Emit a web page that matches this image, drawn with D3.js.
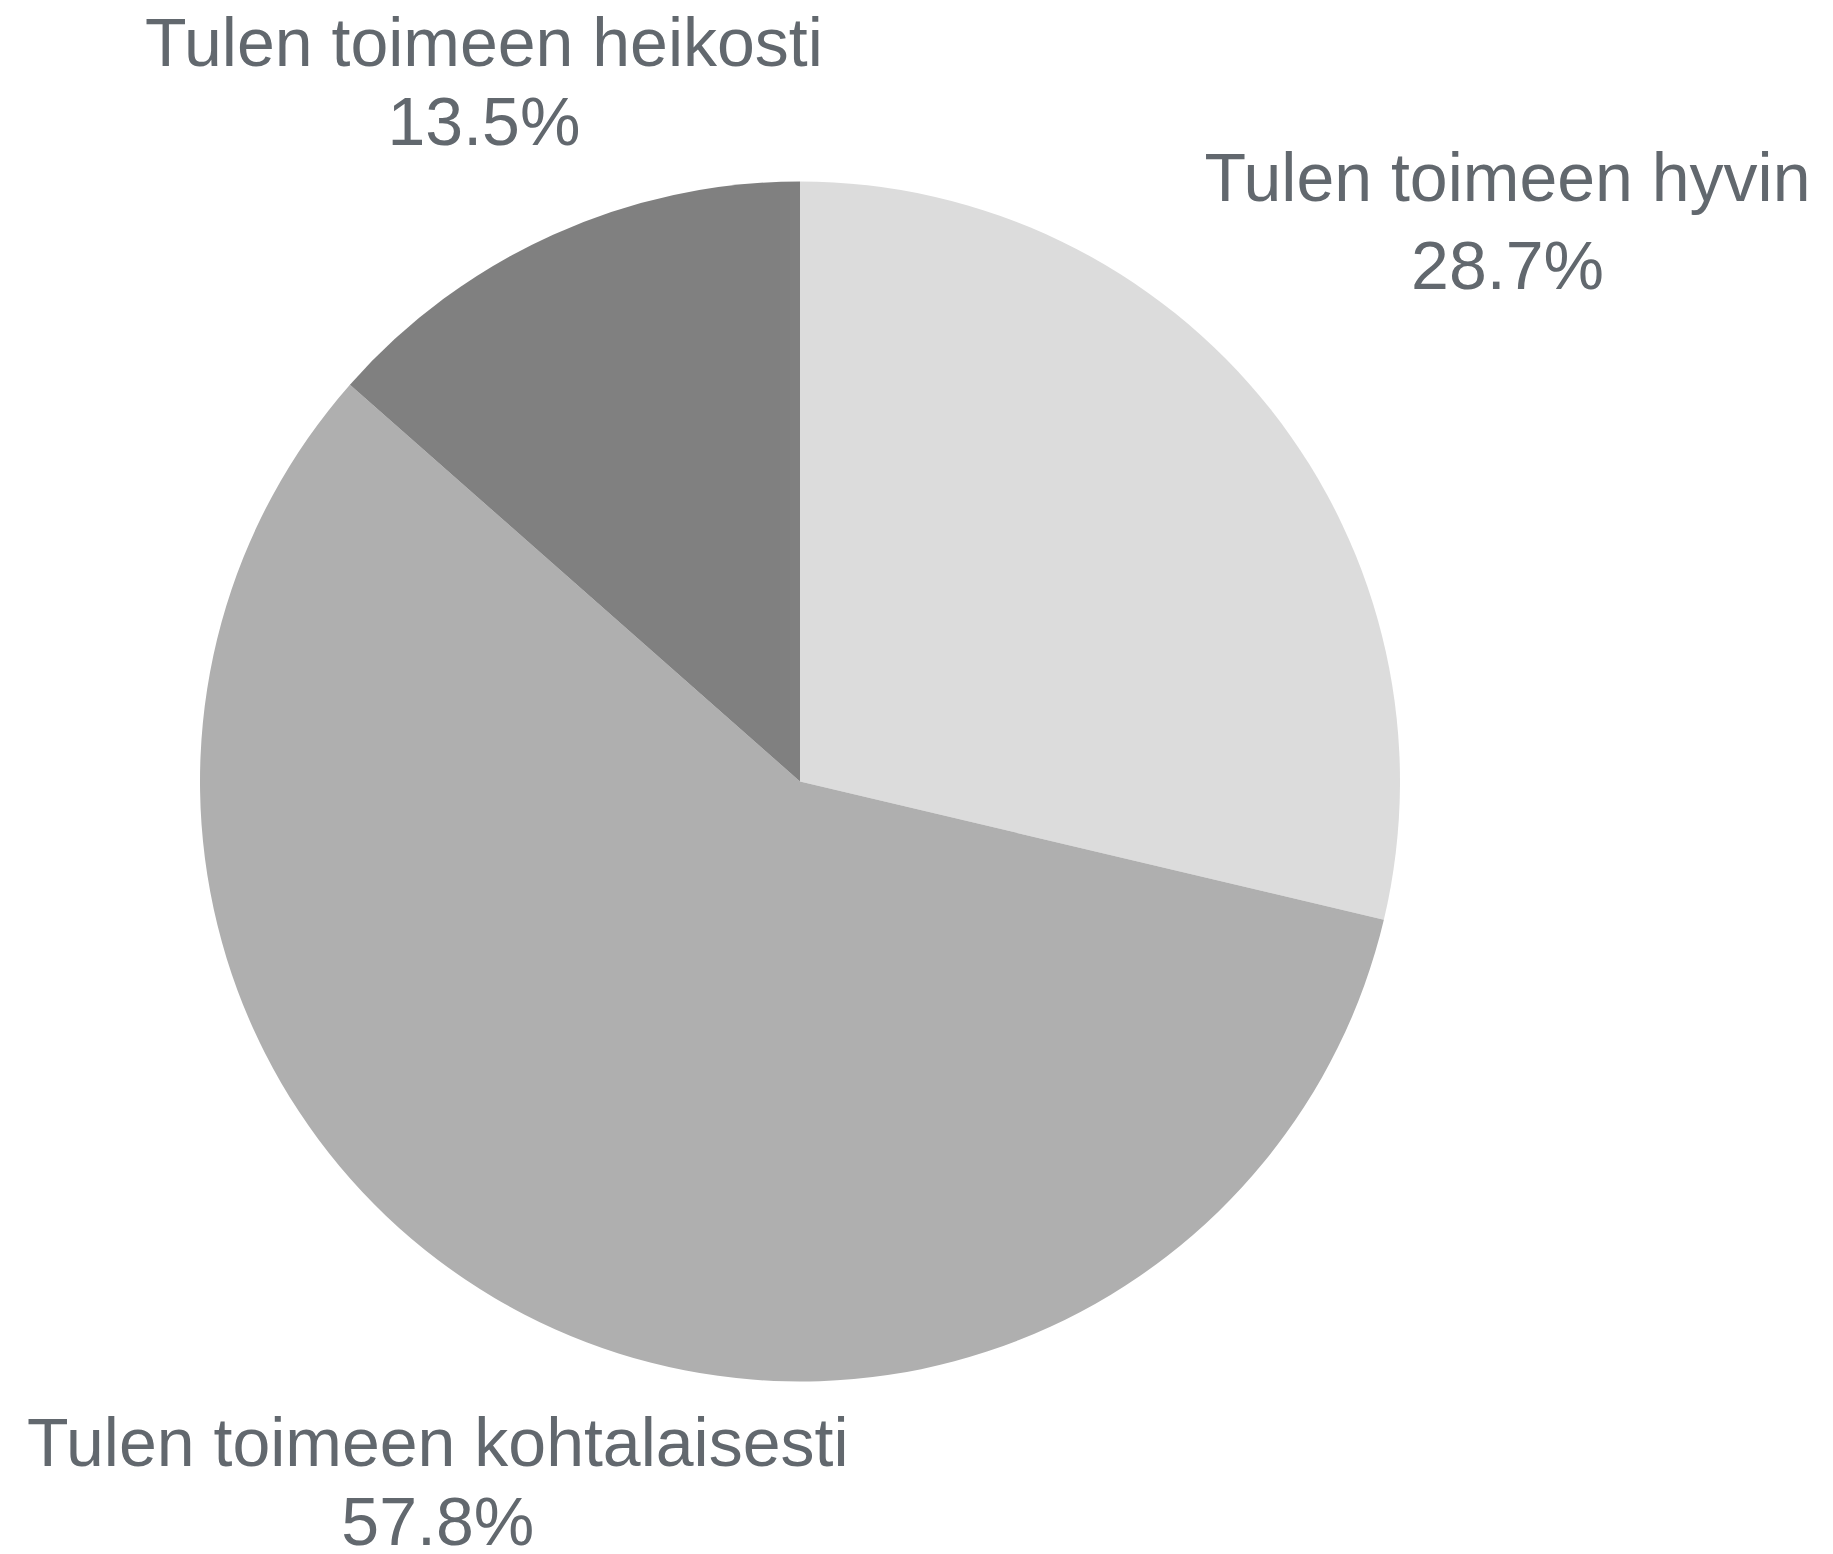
<!DOCTYPE html>
<html>
<head>
<meta charset="utf-8">
<script src="https://cdn.jsdelivr.net/npm/d3@7"></script>
<style>
  html, body { margin: 0; padding: 0; background: #fff; }
  svg { display: block; }
</style>
</head>
<body>
<div id="chart"></div>
<script>
// data
const categories = ["Tulen toimeen hyvin", "Tulen toimeen kohtalaisesti", "Tulen toimeen heikosti"];
const values = [28.7, 57.8, 13.5];
const sliceColors = ["#dcdcdc", "#afafaf", "#808080"];

const width = 1833, height = 1554;
const cx = 800, cy = 781.5, radius = 600;
const labelGap = 37;
const fontSize = 68, capHeight = 47;
const lineStep = 79, descenderExtra = 9;

const svg = d3.select("#chart")
    .append("svg")
    .attr("width", width)
    .attr("height", height);

const pie = d3.pie().sort(null).value(d => d.value);
const arc = d3.arc().innerRadius(0).outerRadius(radius);

const data = categories.map((c, i) => ({ name: c, value: values[i], color: sliceColors[i] }));
const arcs = pie(data);

const g = svg.append("g").attr("transform", `translate(${cx},${cy})`);

g.selectAll("path.slice")
    .data(arcs).enter()
    .append("path")
    .attr("class", "slice")
    .attr("d", arc)
    .attr("fill", d => d.data.color);

// labels: two lines, box pushed out along the mid angle until it clears the pie
const labels = svg.append("g")
    .attr("font-family", "'Liberation Sans', Arial, sans-serif")
    .attr("font-size", fontSize)
    .attr("fill", "#62686e")
    .attr("text-anchor", "middle");

arcs.forEach(a => {
    let mid = (a.startAngle + a.endAngle) / 2;
    let pct = d3.format(".1f")(a.data.value) + "%";
    let step = lineStep + (/[gjpqy]/.test(a.data.name) ? descenderExtra : 0);

    let t = labels.append("text");
    let l1 = t.append("tspan").text(a.data.name);
    let l2 = t.append("tspan").text(pct);
    let w = Math.max(l1.node().getComputedTextLength(), l2.node().getComputedTextLength()) / 2;
    let h = (capHeight + step) / 2;

    let ux = Math.sin(mid), uy = -Math.cos(mid);
    let clearance = d => {
        let bx = d * ux, by = d * uy;
        let dx = Math.max(0, Math.abs(bx) - w);
        let dy = Math.max(0, Math.abs(by) - h);
        return Math.hypot(dx, dy);
    };
    let lo = 0, hi = 3000;
    for (let k = 0; k < 60; k++) {
        let m = (lo + hi) / 2;
        if (clearance(m) < radius + labelGap) lo = m; else hi = m;
    }
    let bx = cx + lo * ux, by = cy + lo * uy;
    let top = by - h;

    l1.attr("x", bx).attr("y", top + capHeight);
    l2.attr("x", bx).attr("y", top + capHeight + step);
});
</script>
</body>
</html>
